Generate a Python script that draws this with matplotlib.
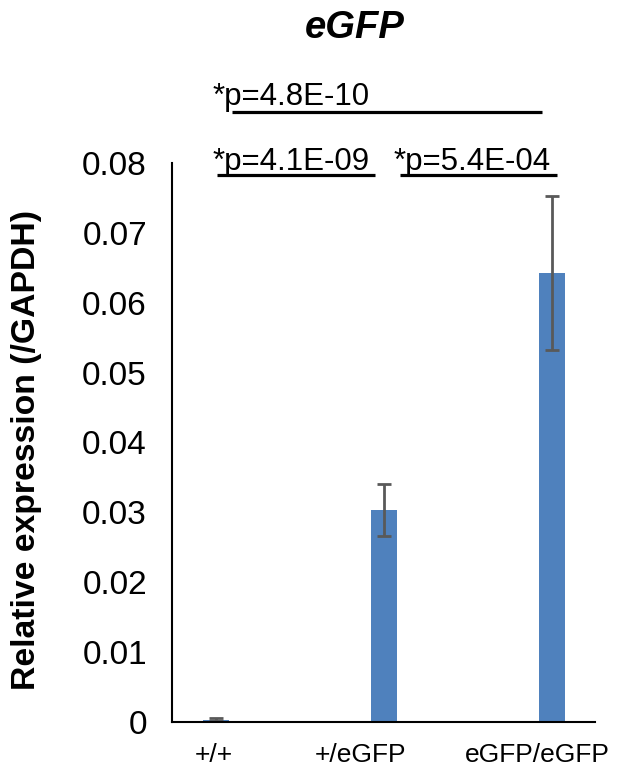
import matplotlib.pyplot as plt
import numpy as np

plt.rcParams['font.family'] = ['Liberation Sans', 'DejaVu Sans']

# data
genotypes = ['+/+', '+/eGFP', 'eGFP/eGFP']
expression = [0.0003, 0.0303, 0.0643]
errors = [0.0002, 0.0037, 0.0110]

# significance brackets: (x start, x end, text x, label)
sig_row1 = [(0.095, 1.94, -0.018, '*p=4.8E-10')]
sig_row2 = [(0.006, 0.946, -0.018, '*p=4.1E-09'),
            (1.095, 2.03, 1.054, '*p=5.4E-04')]

# Excel put the category labels a bit left of the bars
label_shift = [-0.012, -0.137, -0.089]

x = np.arange(len(genotypes))

fig = plt.figure(figsize=(6.24, 7.78), dpi=100)
ax = fig.add_axes([0.2756, 0.072, 0.6779, 0.7185])

ax.bar(x, expression, width=0.16, color='#4F81BD')
ax.errorbar(x, expression, yerr=errors, fmt='none', ecolor='#595959',
            elinewidth=2, capsize=4.7, capthick=2)

ax.set_xlim(-0.262, 2.256)
ax.set_ylim(0, 0.08)
ax.set_yticks(np.arange(0, 0.081, 0.01))
ax.set_yticklabels(['0'] + ['%.2f' % v for v in np.arange(0.01, 0.081, 0.01)])
ax.set_xticks(x + np.array(label_shift))
ax.set_xticklabels(genotypes)
ax.tick_params(axis='y', length=0, pad=18, labelsize=24)
ax.tick_params(axis='x', length=0, pad=15, labelsize=19)

for s in ['top', 'right']:
    ax.spines[s].set_visible(False)
for s in ['left', 'bottom']:
    ax.spines[s].set_linewidth(1.5)
    ax.spines[s].set_color('black')

# brackets above the plot
for y_line, y_txt, row in [(0.0873, 0.0883, sig_row1), (0.0783, 0.0790, sig_row2)]:
    for x0, x1, xt, lab in row:
        ax.plot([x0, x1], [y_line, y_line], color='black', lw=2.3,
                clip_on=False, solid_capstyle='butt')
        ax.text(xt, y_txt, lab, fontsize=22.5, ha='left', va='baseline',
                clip_on=False)

fig.text(0.569, 0.964, 'eGFP', fontsize=27.5, fontweight='bold',
         fontstyle='italic', ha='center', va='center')
fig.text(0.043, 0.4216, 'Relative expression (/GAPDH)', fontsize=24.3,
         fontweight='bold', rotation=90, ha='center', va='center')

fig.savefig('out.png', dpi=100)
